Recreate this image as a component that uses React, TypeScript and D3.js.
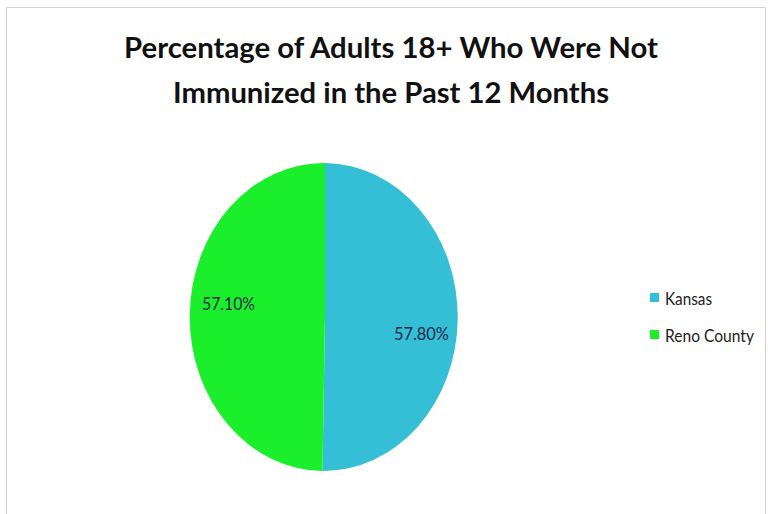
import React from "react";
import * as d3 from "d3";

const categories = ["Kansas", "Reno County"];
const values = [57.8, 57.1];
const valueLabels = ["57.80%", "57.10%"];
const colors = ["#34BFD7", "#1BEF2C"];
const titleLines = ["Percentage of Adults 18+ Who Were Not", "Immunized in the Past 12 Months"];

const W = 769;
const H = 514;
const cx = 325;
const cy = 317;
const rx = 134;
const ry = 154;
const labelShift = [15, -12];

export default function App() {
  const pie = d3.pie<number>().sort(null).value((d) => d);
  const arcs = pie(values);
  const arc = d3.arc<d3.PieArcDatum<number>>().innerRadius(0).outerRadius(1);
  const labelArc = d3.arc<d3.PieArcDatum<number>>().innerRadius(0.72).outerRadius(0.72);
  const font = "Lato, 'Open Sans', sans-serif";

  return (
    <svg width={W} height={H} style={{ position: "absolute", left: 0, top: 0, background: "#fff" }}>
      <rect x={6.5} y={7.5} width={759} height={510} fill="#fff" stroke="#d4d4d4" strokeWidth={1} />
      {titleLines.map((t, i) => (
        <text
          key={i}
          x={391}
          y={58 + i * 45}
          textAnchor="middle"
          fontFamily={font}
          fontWeight="bold"
          fontSize={28.5}
          fill="#111"
          textLength={i === 0 ? 534 : 436}
          lengthAdjust="spacingAndGlyphs"
        >
          {t}
        </text>
      ))}
      <g transform={`translate(${cx},${cy})`}>
        <g transform={`scale(${rx},${ry})`}>
          {arcs.map((a, i) => (
            <path key={i} d={arc(a) || ""} fill={colors[i]} />
          ))}
        </g>
        {arcs.map((a, i) => {
          const [x, y] = labelArc.centroid(a);
          return (
            <text
              key={i}
              x={x * rx}
              y={y * ry + labelShift[i]}
              textAnchor="middle"
              dominantBaseline="central"
              fontFamily={font}
              fontSize={17}
              fill="#1c2a4a"
              textLength={i === 0 ? 55 : 53}
              lengthAdjust="spacingAndGlyphs"
            >
              {valueLabels[i]}
            </text>
          );
        })}
      </g>
      {categories.map((c, i) => (
        <g key={c} transform={`translate(650,${293 + i * 37})`}>
          <rect x={0} y={0} width={9} height={9} fill={colors[i]} />
          <text
            x={15}
            y={5}
            dominantBaseline="central"
            fontFamily={font}
            fontSize={17}
            fill="#222"
            textLength={i === 0 ? 47 : 89}
            lengthAdjust="spacingAndGlyphs"
          >
            {c}
          </text>
        </g>
      ))}
    </svg>
  );
}
